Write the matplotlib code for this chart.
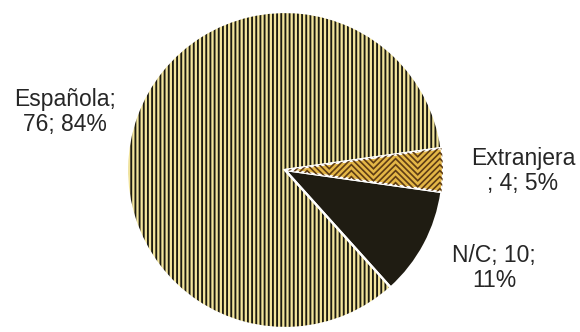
import numpy as np
import matplotlib
matplotlib.use("Agg")
import matplotlib.pyplot as plt
from matplotlib.patches import Wedge

# data
categories = ["Extranjera", "N/C", "Española"]
counts = [4, 10, 76]
pct_labels = [5, 11, 84]
label_text = ["Extranjera\n; {v}; {p}%", "N/C; {v};\n{p}%", "Española;\n{v}; {p}%"]

plt.rcParams['font.family'] = ['Liberation Sans', 'DejaVu Sans']
plt.rcParams['hatch.linewidth'] = 1.35

W, H = 580, 332
cx, cy, R = 285, 170, 158   # pie centre / radius in pixels

fig = plt.figure(figsize=(W / 100, H / 100), dpi=100)
ax = fig.add_axes([(cx - R) / W, (H - cy - R) / H, 2 * R / W, 2 * R / H])

wedges, _ = ax.pie(counts, startangle=8, counterclock=False, radius=1,
                   colors=['#e4b646', '#1f1c12', '#f2e49c'],
                   wedgeprops=dict(edgecolor='#1c1a10', linewidth=0))

# Española: vertical stripes (hatch takes the edge colour)
wedges[2].set_hatch('||||')

# Extranjera: chevron pattern clipped to its wedge
xs = np.arange(0, 1.2, 0.14)
zig = np.where((np.arange(len(xs)) % 2) == 0, 0.0, 0.14)
for off in np.arange(-0.6, 0.6, 0.038):
    ln, = ax.plot(xs, zig + off, color='#5e3c14', lw=1.2, solid_joinstyle='miter')
    ln.set_clip_path(wedges[0])

# white borders on top
for w in wedges:
    ax.add_patch(Wedge(w.center, w.r, w.theta1, w.theta2,
                       fill=False, edgecolor='white', lw=1.6))

ax.set_xlim(-1, 1)
ax.set_ylim(-1, 1)
ax.axis('off')

# label positions (pixels), converted to data coords
label_px = [(523, 171), (494, 268), (65, 112)]
for name, v, p, t, (px, py) in zip(categories, counts, pct_labels, label_text, label_px):
    ax.text((px - cx) / R, (cy - py) / R, t.format(v=v, p=p), ha='center', va='center',
            fontsize=16.5, color='#262626', clip_on=False, linespacing=1.15)

fig.savefig("out.png", dpi=100)
